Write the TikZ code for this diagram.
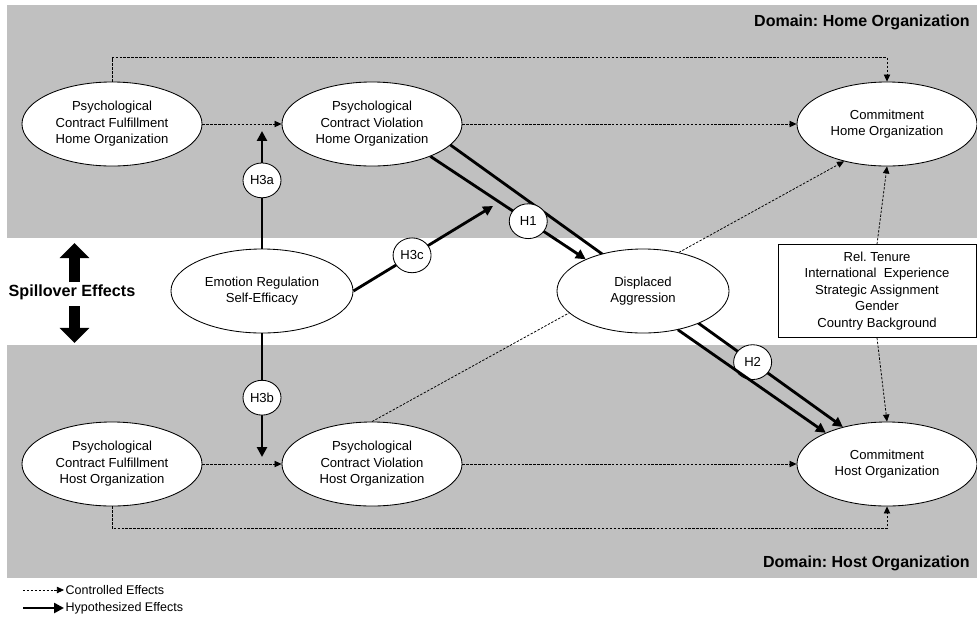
\documentclass[tikz,border=0pt]{standalone}
\usepackage{fontspec}
\setmainfont{Liberation Sans}
\usepackage{xcolor}
\usepackage{tikz}
\usetikzlibrary{arrows.meta,shapes.geometric}
\frenchspacing
\definecolor{bandgray}{RGB}{192,192,192}
\newcommand{\txt}{\fontsize{9.3}{11.8}\selectfont}
\newcommand{\band}[2]{\fill[bandgray] (7,#1) rectangle (977,#2);}
\newcommand{\domain}[3]{\node[font=\bfseries\fontsize{11.4}{13}\selectfont,anchor=east,inner sep=0pt] (#1) at (970,#2) {#3};}
\newcommand{\construct}[4]{\node[latent] (#1) at (#2,#3) {#4};}
\tikzset{
  latent/.style={ellipse,draw,fill=white,line width=0.6pt,minimum width=4.5cm,
    minimum height=2.1cm,inner sep=0pt,align=center,font=\txt},
  hyp/.style={ellipse,draw,fill=white,line width=0.6pt,minimum width=0.95cm,
    minimum height=0.87cm,inner sep=0pt,font=\txt},
  ctrl/.style={line width=0.55pt,dash pattern=on 1.7pt off 1.1pt,
    -{Triangle[length=5pt,width=4.5pt]}},
  hypo/.style={line width=2pt,-{Triangle[length=7pt,width=7pt]}},
  spillarr/.style={line width=7.8pt,-{Triangle[length=10.7pt,width=20.6pt]}},
}

\begin{document}
\begin{tikzpicture}[x=0.025cm,y=-0.025cm]
    \useasboundingbox (0,0) rectangle (977,620);
    \band{5}{238} \band{345}{578}
    \domain{dhome}{22}{Domain: Home Organization}
    \domain{dhost}{563}{Domain: Host Organization}
    % constructs
    \construct{pcfhome}{112}{124}{Psychological\\Contract Fulfillment\\Home Organization}
    \construct{pcvhome}{372}{124}{Psychological\\Contract Violation\\Home Organization}
    \construct{comhome}{887}{124}{Commitment\\Home Organization}
    \construct{pcfhost}{112}{464}{Psychological\\Contract Fulfillment\\Host Organization}
    \construct{pcvhost}{372}{464}{Psychological\\Contract Violation\\Host Organization}
    \construct{comhost}{887}{464}{Commitment\\Host Organization}
    \node[latent,minimum width=4.55cm] (emo) at (262,291) {Emotion Regulation\\Self-Efficacy};
    \node[draw,fill=white,line width=0.6pt,minimum width=4.95cm,minimum height=2.32cm,
      align=center,font=\txt,inner sep=0pt] (ctrlvars) at (877,291)
      {Rel. Tenure\\International\ \ Experience\\Strategic Assignment\\Gender\\Country Background};
    % controlled effects
    \draw[ctrl] (pcfhome) -- (pcvhome);
    \draw[ctrl] (pcvhome) -- (comhome);
    \draw[ctrl] (pcfhost) -- (pcvhost);
    \draw[ctrl] (pcvhost) -- (comhost);
    \draw[ctrl] (pcfhome.north) -- ++(0,-24) -| (comhome.north);
    \draw[ctrl] (pcfhost.south) -- ++(0,22) -| (comhost.south);
    \draw[ctrl] (pcvhost.north) -- (comhome.-139);
    \draw[ctrl] (ctrlvars.north) -- (comhome.south);
    \draw[ctrl] (ctrlvars.south) -- (comhost.north);
    % hypothesized effects
    \draw[hypo] (pcvhome.-15) -- (comhost.140) node[hyp,pos=0.77] (h2) {H2};
    \node[latent,minimum width=4.3cm] (disp) at (643,291) {Displaced\\Aggression};
    \draw[hypo] (pcvhome.-29) -- (disp.151) node[hyp,pos=0.63] (h1) {H1};
    \draw[hypo] (disp.-48) -- (comhost.153);
    \coordinate (h3atip) at (262,131);
    \coordinate (h3btip) at (262,457);
    \coordinate (h3ctip) at (493,206);
    \draw[hypo] (emo.north) -- (h3atip) node[hyp,pos=0.58] (h3a) {H3a};
    \draw[hypo] (emo.south) -- (h3btip) node[hyp,pos=0.52] (h3b) {H3b};
    \draw[hypo] (emo.east) -- (h3ctip) node[hyp,pos=0.42] (h3c) {H3c};
    % spillover
    \node[font=\bfseries\fontsize{11.5}{13}\selectfont,inner sep=0pt] (spill) at (72,292) {Spillover Effects};
    \draw[spillarr] (74.5,282) -- (74.5,243);
    \draw[spillarr] (74.5,306) -- (74.5,343);
    % legend
    \node[font=\fontsize{8.9}{10}\selectfont,anchor=west,inner sep=1pt] (legc) at (64,590) {Controlled Effects};
    \node[font=\fontsize{8.9}{10}\selectfont,anchor=west,inner sep=1pt] (legh) at (64,608) {Hypothesized Effects};
    \coordinate (legc0) at (23,590);
    \coordinate (legh0) at (23,608);
    \draw[ctrl] (legc0) -- (legc.west);
    \draw[hypo] (legh0) -- (legh.west);
\end{tikzpicture}
\end{document}
